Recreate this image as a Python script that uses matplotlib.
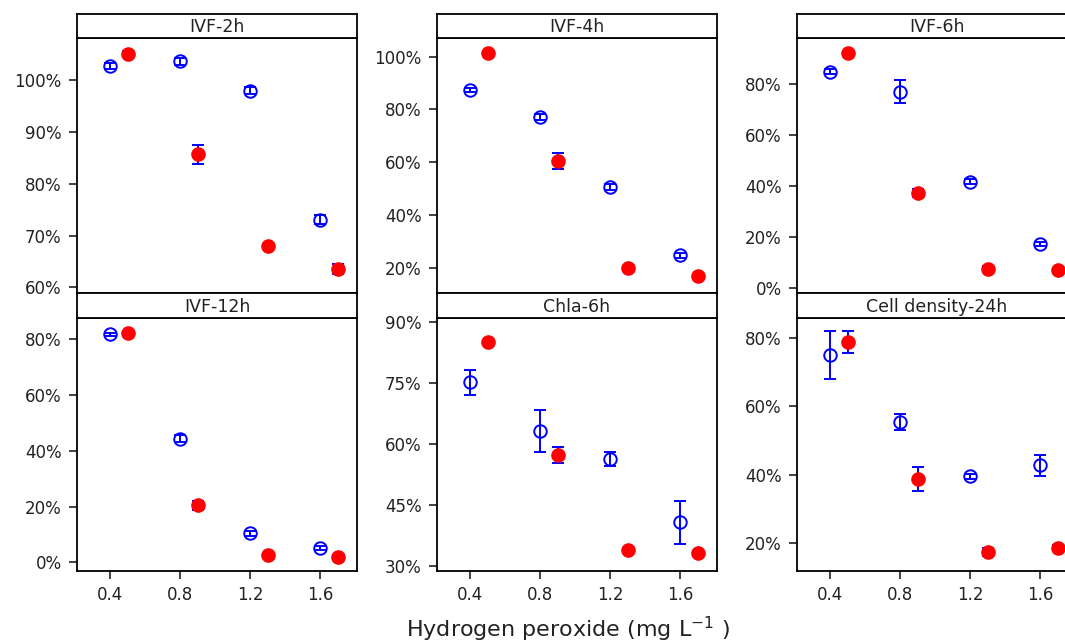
import matplotlib
matplotlib.use("Agg")
import matplotlib.pyplot as plt
from matplotlib.ticker import PercentFormatter

# ── data (percent of control) ────────────────────────────────────────────────
conc_a = [0.4, 0.8, 1.2, 1.6]   # open blue circles
conc_b = [0.5, 0.9, 1.3, 1.7]   # filled red circles

titles = ["IVF-2h", "IVF-4h", "IVF-6h", "IVF-12h", "Chla-6h", "Cell density-24h"]

blue_mean = [
    [102.8, 103.7, 98.0, 73.1],
    [87.4, 77.1, 50.6, 24.7],
    [84.9, 77.1, 41.8, 17.3],
    [81.8, 44.4, 10.4, 5.2],
    [75.1, 63.1, 56.3, 40.8],
    [74.9, 55.4, 39.5, 42.7],
]
blue_err = [
    [0.5, 0.7, 0.7, 0.8],
    [0.8, 1.0, 1.0, 1.0],
    [1.0, 4.5, 1.0, 0.8],
    [0.6, 1.2, 1.0, 0.7],
    [3.0, 5.2, 1.7, 5.3],
    [7.0, 2.4, 0.8, 3.0],
]
red_mean = [
    [105.2, 85.7, 68.0, 63.5],
    [101.3, 60.5, 19.8, 16.9],
    [92.2, 37.5, 7.8, 7.1],
    [82.2, 20.4, 2.5, 2.0],
    [84.9, 57.2, 34.0, 33.1],
    [78.7, 38.8, 17.5, 18.7],
]
red_err = [
    [0.5, 1.8, 0.4, 1.0],
    [0.8, 3.0, 1.0, 0.8],
    [1.0, 1.5, 0.8, 0.6],
    [0.5, 1.5, 0.5, 0.5],
    [0.5, 2.0, 0.5, 0.5],
    [3.2, 3.5, 1.2, 0.8],
]

ylims = [(58.9, 108.2), (10.4, 107.1), (-1.8, 98.2),
         (-3.1, 87.6), (28.8, 90.9), (11.9, 85.75)]
yticks = [range(60, 101, 10), range(20, 101, 20), range(0, 81, 20),
          range(0, 81, 20), range(30, 91, 15), range(20, 81, 20)]
xticks = [0.4, 0.8, 1.2, 1.6]

# ── layout (pixels) ──────────────────────────────────────────────────────────
W, H = 1065, 644
col_left = [77, 437, 797]
col_w = 280
rows = [(14, 38, 293), (293, 318, 571)]  # strip top, plot top, plot bottom

fig = plt.figure(figsize=(W / 100, H / 100), dpi=100)

for i, title in enumerate(titles):
    r, c = divmod(i, 3)
    s_top, p_top, p_bot = rows[r]
    x0 = col_left[c] / W

    ax = fig.add_axes([x0, (H - p_bot) / H, col_w / W, (p_bot - p_top) / H])
    ax.errorbar(conc_a, blue_mean[i], yerr=blue_err[i], fmt="o", color="blue",
                mfc="none", mec="blue", ms=9, mew=1.4, elinewidth=1.4,
                capsize=4, capthick=1.4, zorder=3)
    ax.errorbar(conc_b, red_mean[i], yerr=red_err[i], fmt="none", ecolor="blue",
                elinewidth=1.4, capsize=4, capthick=1.4, zorder=2)
    ax.plot(conc_b, red_mean[i], "o", color="red", ms=9.5, mec="red", zorder=4)

    ax.set_xlim(0.21, 1.81)
    ax.set_ylim(*ylims[i])
    ax.set_yticks(list(yticks[i]))
    ax.yaxis.set_major_formatter(PercentFormatter(decimals=0))
    ax.set_xticks(xticks)
    ax.set_xticklabels([f"{v:.1f}" for v in xticks])
    ax.tick_params(axis="y", direction="out", length=6, width=1.2, pad=5,
                   labelsize=12, colors="#222222")
    ax.tick_params(axis="x", direction="out", length=6, width=1.2, pad=5,
                   labelsize=12, colors="#222222")
    if r == 0:
        ax.tick_params(axis="x", bottom=False, labelbottom=False)
    for sp in ax.spines.values():
        sp.set_linewidth(1.3)

    # strip on top of the panel
    sax = fig.add_axes([x0, (H - p_top) / H, col_w / W, (p_top - s_top) / H])
    sax.set_xticks([])
    sax.set_yticks([])
    for sp in sax.spines.values():
        sp.set_linewidth(1.3)
    sax.text(0.5, 0.45, title, ha="center", va="center", fontsize=12.5,
             color="#222222", transform=sax.transAxes)

fig.text(568 / W, (H - 637) / H, "Hydrogen peroxide (mg L$^{-1}$ )",
         ha="center", va="baseline", fontsize=16, color="#222222")

fig.savefig("out.png", dpi=100)
